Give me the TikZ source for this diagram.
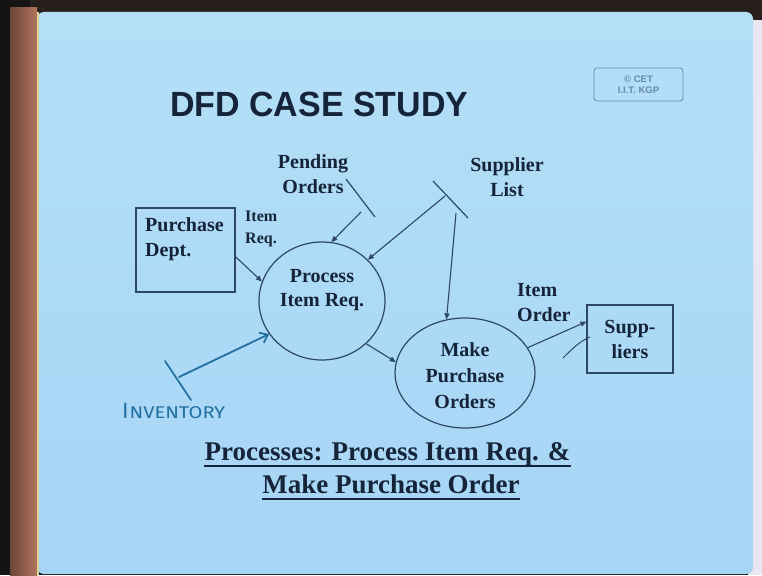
\documentclass[tikz,border=0pt]{standalone}
\usepackage{fontspec}
\setmainfont{Liberation Serif}
\newfontfamily\headfont{Liberation Sans}
\newfontfamily\penfont{Fira Sans}
\usetikzlibrary{arrows.meta,shapes.geometric,calc}

\definecolor{slidetop}{RGB}{180,223,247}
\definecolor{slidelow}{RGB}{166,213,245}
\definecolor{ink}{RGB}{22,36,58}
\definecolor{wire}{RGB}{45,72,100}
\definecolor{pen}{RGB}{34,112,160}
\definecolor{wood}{RGB}{176,116,92}
\definecolor{stamp}{RGB}{105,135,168}
\definecolor{frame}{RGB}{40,32,28}
\definecolor{wall}{RGB}{234,229,243}
\definecolor{slideedge}{RGB}{222,212,150}

\begin{document}
\begin{tikzpicture}[x=1pt,y=-1pt,
  lbl/.style={font=\fontsize{20}{25}\selectfont\bfseries, text=ink, align=center, inner sep=0pt},
  smalllbl/.style={font=\fontsize{16}{22}\selectfont\bfseries, text=ink, align=left, inner sep=0pt},
  proc/.style={ellipse, draw=wire, line width=1.2pt, inner sep=0pt},
  ent/.style={rectangle, draw=wire, line width=1.2pt, inner sep=0pt},
  storeline/.style={draw=wire, line width=1.2pt},
  flow/.style={draw=wire, line width=1.1pt, -{Triangle[length=6pt,width=5pt]}},
  penline/.style={draw=pen, line width=1.8pt, line cap=round},
  footer/.style={font=\fontsize{27}{32}\selectfont\bfseries, text=ink, inner sep=0pt, anchor=base}
]
\useasboundingbox (0,0) rectangle (762,575);

% board, frame and wall
\fill[black!92] (0,0) rectangle (762,575);
\fill[frame] (30,0) rectangle (762,20);
\shade[left color=wood!60!black, right color=wood] (10,8) rectangle (37,575);
\fill[wall] (748,20) rectangle (762,575);
\shade[top color=slidetop, bottom color=slidelow, rounded corners=7] (37,12) rectangle (753,574);
\draw[slideedge, line width=1.5pt] (38,12) -- (38,575);

% heading and stamp
\node[anchor=base west, inner sep=0pt, text=ink] (title) at (170,117)
  {\headfont\bfseries\fontsize{35}{35}\selectfont\scalebox{0.97}[1]{DFD CASE STUDY}};
\node[draw=stamp, line width=0.8pt, rounded corners=3pt, minimum width=89pt, minimum height=33pt] (cet) at (638.5,84.5) {};
\node[text=stamp, font=\headfont\bfseries\fontsize{9.5}{11}\selectfont, align=center, inner sep=0pt] (cettext) at (cet) {\textcopyright\ CET\\I.I.T. KGP};

% external entities
\node[ent, minimum width=99pt, minimum height=84pt] (pd) at (185.5,250) {};
\node[lbl, align=left, anchor=west] (pdtext) at (145,239) {Purchase\\Dept.};
\node[ent, lbl, minimum width=86pt, minimum height=68pt] (sup) at (630,339) {Supp-\\liers};

% processes
\node[proc, minimum width=126pt, minimum height=118pt] (p1) at (322,301) {};
\node[lbl, font=\fontsize{20}{24}\selectfont\bfseries] (p1text) at (322,290) {Process\\Item Req.};
\node[proc, minimum width=140pt, minimum height=110pt] (p2) at (465,373) {};
\node[lbl, font=\fontsize{20}{26}\selectfont\bfseries] (p2text) at (465,376) {Make\\Purchase\\Orders};

% data stores
\node[lbl] (potext) at (313,174.5) {Pending\\Orders};
\coordinate (poA) at (346,179);
\coordinate (poB) at (375,217);
\coordinate (poOut) at (361,212);
\draw[storeline] (poA) -- (poB);

\node[lbl] (sltext) at (507,177) {Supplier\\List};
\coordinate (slA) at (433,181);
\coordinate (slB) at (468,218);
\coordinate (slOut1) at (445,196);
\coordinate (slOut2) at (456,213);
\draw[storeline] (slA) -- (slB);

% flow labels
\node[smalllbl, anchor=west] (irtext) at (245,229) {Item\\Req.};
\node[lbl, align=left, anchor=west] (iotext) at (517,303) {Item\\Order};

% flows
\draw[flow] ($(pd.north east)!0.58!(pd.south east)$) -- (p1.162);
\draw[flow] (poOut) -- (p1.81);
\draw[flow] (slOut1) -- (p1.42);
\draw[flow] (slOut2) -- (p2.109);
\draw[flow] (p1.-44) -- (p2.171);
\draw[flow] (p2.22) -- ($(sup.north west)!0.25!(sup.south west)$);

% pen annotations
\coordinate (invA) at (165,361);
\coordinate (invB) at (191,400);
\coordinate (invOut) at (179,377);
\draw[penline] (invA) -- (invB);
\draw[penline, -{Straight Barb[length=7pt,width=11pt,line width=1.8pt]}] (invOut) -- (p1.212);
\node[anchor=base west, inner sep=0pt, text=pen, font=\penfont\fontsize{17}{17}\selectfont] (invtext) at (122,418)
  {{\fontsize{22}{22}\selectfont I}\kern1pt\scalebox{1.18}[1]{NVENTORY}};
\coordinate (tickA) at (563,358);
\coordinate (tickB) at (590,337);
\draw[draw=wire, line width=1pt, line cap=round] (tickA) .. controls (572,349) and (580,341) .. (tickB);

% footer
\node[footer] (foot1) at (387.5,460) {Processes: Process Item Req. \&};
\node[footer] (foot2) at (391,493) {Make Purchase Order};
\draw[ink, line width=1.8pt] ($(foot1.base west)+(0,6)$) -- ($(foot1.base east)+(0,6)$);
\draw[ink, line width=1.8pt] ($(foot2.base west)+(0,6)$) -- ($(foot2.base east)+(0,6)$);
\end{tikzpicture}
\end{document}
